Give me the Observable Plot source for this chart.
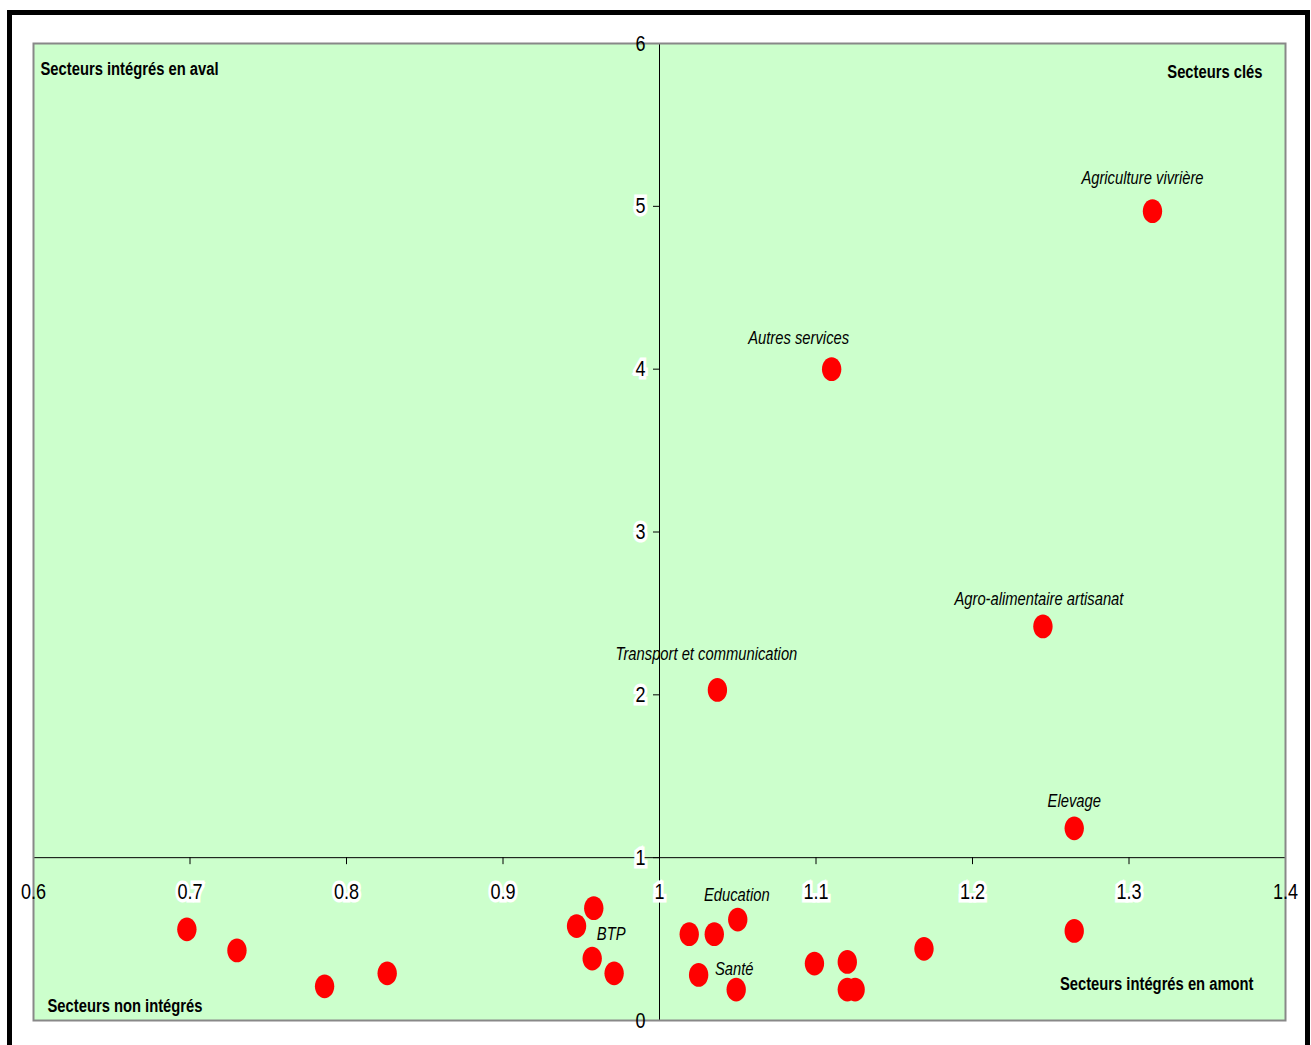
<!DOCTYPE html>
<html>
<head>
<meta charset="utf-8">
<script src="https://cdn.jsdelivr.net/npm/d3@7"></script>
<script src="https://cdn.jsdelivr.net/npm/@observablehq/plot@0.6"></script>
<style>
  html, body { margin: 0; padding: 0; background: #fff; overflow: hidden; }
  #wrap { position: relative; width: 1311px; height: 1045px; }
  #border { position: absolute; left: 7px; top: 10px; width: 1293px; height: 1100px; border: 5px solid #000; box-sizing: content-box; pointer-events: none; }
  #chart { position: absolute; left: 0; top: 0; }
</style>
</head>
<body>
<div id="wrap"><div id="chart"></div><div id="border"></div></div>
<script>
// ---- data ----
const sectorX = [1.315, 1.110, 1.245, 1.037, 1.265, 0.698, 0.730, 0.786, 0.826, 0.958, 0.947, 0.957, 0.971, 1.019, 1.035, 1.050, 1.025, 1.049, 1.099, 1.120, 1.120, 1.125, 1.169, 1.265];
const sectorY = [4.97, 4.00, 2.42, 2.03, 1.18, 0.56, 0.43, 0.21, 0.29, 0.69, 0.58, 0.38, 0.29, 0.53, 0.53, 0.62, 0.28, 0.19, 0.35, 0.36, 0.19, 0.19, 0.44, 0.55];
const sectorLabels = ["Agriculture vivrière", "Autres services", "Agro-alimentaire artisanat", "Transport et communication", "Elevage", "", "", "", "", "", "", "BTP", "", "", "", "Education", "", "Santé", "", "", "", "", "", ""];
const xTicks = [0.6, 0.7, 0.8, 0.9, 1, 1.1, 1.2, 1.3, 1.4];
const xTickLabels = ["0.6", "0.7", "0.8", "0.9", "1", "1.1", "1.2", "1.3", "1.4"];
const yTicks = [0, 1, 2, 3, 4, 5, 6];
const yTickLabels = ["0", "1", "2", "3", "4", "5", "6"];
const quadrantLabels = ["Secteurs intégrés en aval", "Secteurs clés", "Secteurs non intégrés", "Secteurs intégrés en amont"];
const crossX = 1, crossY = 1;

const points = sectorX.map((x, i) => ({x, y: sectorY[i], label: sectorLabels[i]}));
const xt = xTicks.map((v, i) => ({v, t: xTickLabels[i]}));
const yt = yTicks.map((v, i) => ({v, t: yTickLabels[i]}));

const font = '"Liberation Sans", Arial, sans-serif';

// label offsets (pixels) relative to their points
const labelOffset = {
  "Agriculture vivrière": [-10, -33],
  "Autres services": [-33, -31],
  "Agro-alimentaire artisanat": [-4, -27],
  "Transport et communication": [-11, -36],
  "Elevage": [0, -27],
  "Education": [-1, -24],
  "Santé": [-2, -20],
  "BTP": [19, -24]
};

// ellipse symbol
const ellipse = {
  draw(ctx, size) {
    const r = Math.sqrt(size / Math.PI);
    const rx = r * 0.88, ry = r * 1.08, k = 0.5523;
    ctx.moveTo(rx, 0);
    ctx.bezierCurveTo(rx, ry * k, rx * k, ry, 0, ry);
    ctx.bezierCurveTo(-rx * k, ry, -rx, ry * k, -rx, 0);
    ctx.bezierCurveTo(-rx, -ry * k, -rx * k, -ry, 0, -ry);
    ctx.bezierCurveTo(rx * k, -ry, rx, -ry * k, rx, 0);
    ctx.closePath();
  }
};

const qStyle = {text: d => d, fontWeight: "bold", fontSize: 18, fontFamily: font, fill: "#000"};
const quadMarks = [
  Plot.text([quadrantLabels[0]], {...qStyle, frameAnchor: "top-left", dx: 7, dy: 19}),
  Plot.text([quadrantLabels[1]], {...qStyle, frameAnchor: "top-right", dx: -23, dy: 22}),
  Plot.text([quadrantLabels[2]], {...qStyle, frameAnchor: "bottom-left", dx: 14, dy: -9}),
  Plot.text([quadrantLabels[3]], {...qStyle, frameAnchor: "bottom-right", dx: -32, dy: -31})
];

const pointLabelMarks = points.filter(d => d.label).map(d => {
  const [dx, dy] = labelOffset[d.label] || [0, -27];
  return Plot.text([d], {x: "x", y: "y", text: "label", dx, dy, fontStyle: "italic", fontSize: 18, fontFamily: font, fill: "#000"});
});

const tickStyle = {text: "t", fontSize: 22, fontFamily: font, fill: "#000"};
const halo = {stroke: "#fff", strokeWidth: 7, strokeLinejoin: "miter"};

const chart = Plot.plot({
  width: 1311,
  height: 1045,
  marginLeft: 33,
  marginRight: 26,
  marginTop: 43,
  marginBottom: 25,
  x: {domain: [0.6, 1.4], axis: null},
  y: {domain: [0, 6], axis: null},
  style: {background: "transparent", overflow: "visible"},
  marks: [
    Plot.frame({fill: "#ccffcc", stroke: null}),
    // axes crossing at (1,1)
    Plot.ruleY([crossY], {stroke: "#000", strokeWidth: 1}),
    Plot.ruleX([crossX], {stroke: "#000", strokeWidth: 1}),
    Plot.ruleX(xt, {x: "v", y1: crossY, y2: crossY, insetBottom: -7, stroke: "#000"}),
    Plot.ruleY(yt, {y: "v", x1: crossX, x2: crossX, insetLeft: -6, stroke: "#000"}),
    Plot.frame({stroke: "#888", strokeWidth: 2}),
    // tick labels
    Plot.text(xt.filter(d => d.v > 0.6 && d.v < 1.4), {...tickStyle, ...halo, x: "v", y: crossY, dy: 34}),
    Plot.text(xt.filter(d => d.v === 0.6 || d.v === 1.4), {...tickStyle, x: "v", y: crossY, dy: 34}),
    Plot.text(yt.filter(d => d.v > 0 && d.v < 6), {...tickStyle, ...halo, x: crossX, y: "v", dx: -14, textAnchor: "end"}),
    Plot.text(yt.filter(d => d.v === 0 || d.v === 6), {...tickStyle, x: crossX, y: "v", dx: -14, textAnchor: "end"}),
    // points
    Plot.dot(points, {x: "x", y: "y", r: 11, symbol: ellipse, fill: "#ff0000", stroke: null}),
    ...pointLabelMarks,
    ...quadMarks
  ]
});
document.getElementById("chart").appendChild(chart);

// emulate a narrow face (like Arial Narrow) by compressing glyphs horizontally
chart.querySelectorAll("text").forEach(t => {
  const len = t.getComputedTextLength();
  if (len > 0) {
    t.setAttribute("textLength", (len * 0.82).toFixed(1));
    t.setAttribute("lengthAdjust", "spacingAndGlyphs");
  }
});
</script>
</body>
</html>
